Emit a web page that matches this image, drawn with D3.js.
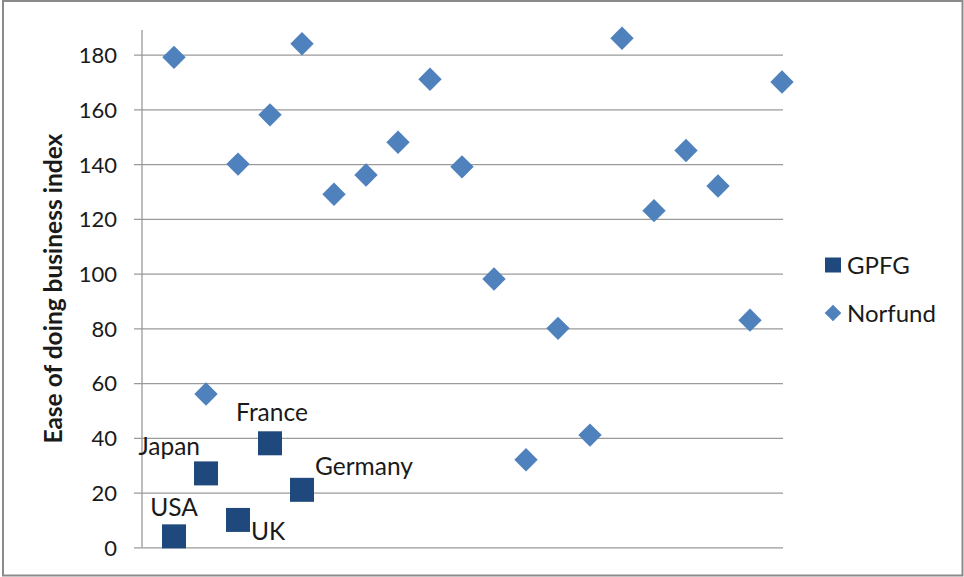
<!DOCTYPE html>
<html>
<head>
<meta charset="utf-8">
<script src="https://cdn.jsdelivr.net/npm/d3@7"></script>
<style>
  html, body { margin: 0; padding: 0; background: #fff; }
  svg { display: block; }
  text { font-family: Lato, "Open Sans", sans-serif; fill: #1a1a1a; }
</style>
</head>
<body>
<div id="chart"></div>
<script>
// ---- data ----
const gpfgCountries = ["USA", "Japan", "UK", "France", "Germany"];
const gpfgX = [1, 2, 3, 4, 5];
const gpfgValues = [4, 27, 10, 38, 21];

const norfundX = [1, 2, 3, 4, 5, 6, 7, 8, 9, 10, 11, 12, 13, 14, 15, 16, 17, 18, 19, 20];
const norfundValues = [179, 56, 140, 158, 184, 129, 136, 148, 171, 139, 98, 32, 80, 41, 186, 123, 145, 132, 83, 170];

const yTicks = [0, 20, 40, 60, 80, 100, 120, 140, 160, 180];
const seriesNames = ["GPFG", "Norfund"];
const yTitle = "Ease of doing business index";

// ---- layout ----
const W = 964, H = 577;
const plot = { left: 142, top: 30, right: 782, bottom: 547.3 };
const colors = { GPFG: "#1F497D", Norfund: "#4F81BD" };
const gridColor = "#9a9a9a";

// label placement per country (anchor, dx, dy relative to marker centre)
const labelPlacement = {
  USA: { anchor: "middle", dx: 0, dy: -20 },
  Japan: { anchor: "end", dx: -6, dy: -18 },
  UK: { anchor: "start", dx: 13, dy: 20 },
  France: { anchor: "middle", dx: 2, dy: -22 },
  Germany: { anchor: "start", dx: 13, dy: -15 }
};

const svg = d3.select("#chart").append("svg")
  .attr("width", W).attr("height", H);

svg.append("rect").attr("x", 0).attr("y", 0).attr("width", W).attr("height", H).attr("fill", "#fff");
svg.append("rect")
  .attr("x", 3).attr("y", 1).attr("width", 959.5).attr("height", 574.5)
  .attr("fill", "none").attr("stroke", "#8a8a8a").attr("stroke-width", 2);

const x = d3.scaleLinear().domain([0, 20]).range([plot.left, plot.right]);
const y = d3.scaleLinear().domain([0, 189]).range([plot.bottom, plot.top]);

// gridlines + y axis via d3.axisLeft
const yAxis = d3.axisLeft(y)
  .tickValues(yTicks)
  .tickSize(-(plot.right - plot.left + 1))
  .tickPadding(25)
  .tickFormat(d3.format("d"));

const gAxis = svg.append("g")
  .attr("transform", `translate(${plot.left},0)`)
  .call(yAxis);
gAxis.select(".domain").remove();
gAxis.selectAll(".tick line")
  .attr("stroke", gridColor).attr("stroke-width", 1.3)
  .attr("x1", -8);
gAxis.selectAll(".tick text")
  .attr("font-size", 22)
  .attr("fill", "#1a1a1a")
  .attr("dy", "0.36em")
  .style("font-family", "Lato, sans-serif");

// y axis line
svg.append("line")
  .attr("x1", plot.left).attr("x2", plot.left)
  .attr("y1", plot.top).attr("y2", plot.bottom)
  .attr("stroke", gridColor).attr("stroke-width", 1.3);

// y title
svg.append("text")
  .attr("transform", `translate(62,${(plot.top + plot.bottom) / 2}) rotate(-90)`)
  .attr("text-anchor", "middle")
  .attr("font-size", 24.5)
  .attr("font-weight", "bold")
  .text(yTitle);

// markers
const sq = 24, dia = 11.7;
const diamondPath = (cx, cy, r) => `M${cx},${cy - r}L${cx + r},${cy}L${cx},${cy + r}L${cx - r},${cy}Z`;

svg.append("g").selectAll("path")
  .data(norfundValues.map((v, i) => ({ x: norfundX[i], v })))
  .join("path")
  .attr("d", d => diamondPath(x(d.x), y(d.v), dia))
  .attr("fill", colors.Norfund);

const gpfgData = gpfgValues.map((v, i) => ({ x: gpfgX[i], v, name: gpfgCountries[i] }));
svg.append("g").selectAll("rect")
  .data(gpfgData)
  .join("rect")
  .attr("x", d => x(d.x) - sq / 2)
  .attr("y", d => y(d.v) - sq / 2)
  .attr("width", sq).attr("height", sq)
  .attr("fill", colors.GPFG);

svg.append("g").selectAll("text")
  .data(gpfgData)
  .join("text")
  .attr("x", d => x(d.x) + labelPlacement[d.name].dx)
  .attr("y", d => y(d.v) + labelPlacement[d.name].dy)
  .attr("text-anchor", d => labelPlacement[d.name].anchor)
  .attr("font-size", 24.5)
  .text(d => d.name);

// legend
const legend = svg.append("g");
const legY = [265, 313];
legend.append("rect")
  .attr("x", 825).attr("y", legY[0] - 7.5).attr("width", 16).attr("height", 15)
  .attr("fill", colors.GPFG);
legend.append("path")
  .attr("d", diamondPath(833, legY[1], 8.3))
  .attr("fill", colors.Norfund);
legend.selectAll("text")
  .data(seriesNames)
  .join("text")
  .attr("x", 847)
  .attr("y", (d, i) => legY[i])
  .attr("dy", "0.36em")
  .attr("font-size", 24)
  .text(d => d);
</script>
</body>
</html>
